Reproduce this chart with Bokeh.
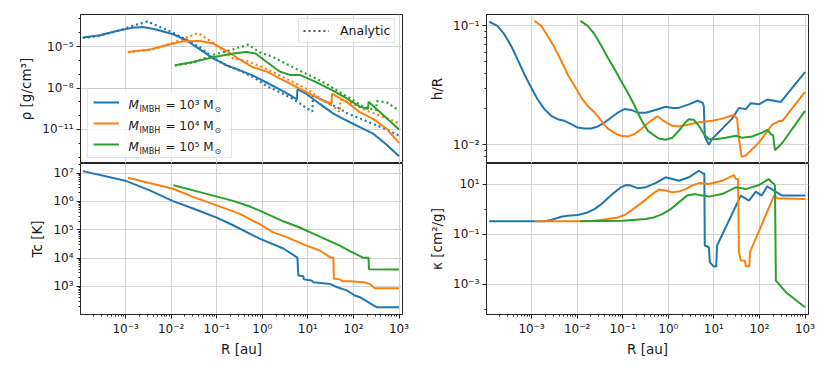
from bokeh.plotting import figure
from bokeh.layouts import row, column
from bokeh.models import (Range1d, FixedTicker, CustomJSTickFormatter, Legend, LegendItem, Label,
                          BoxAnnotation)
from bokeh.embed import file_html
from bokeh.resources import INLINE

# ---------------- data: log10 values ----------------
# rho [g/cm^3]
rho_blue_R = [-3.94, -3.57, -3.2, -2.84, -2.62, -2.33, -1.96, -1.67, -1.37, -1.08, -0.79, -0.49, -0.2, 0.09, 0.38, 0.6, 0.76, 0.77, 0.97, 1.26, 1.56, 1.85, 2.14, 2.44, 2.73, 3.0]
rho_blue_v = [-4.35, -4.18, -3.87, -3.63, -3.58, -3.77, -4.11, -4.54, -5.2, -5.85, -6.35, -6.72, -7.1, -7.6, -8.1, -8.5, -8.83, -8.1, -8.43, -9.15, -9.85, -10.35, -10.83, -11.32, -12.1, -12.93]
rho_blue_an_R = [-3.94, -3.57, -3.2, -2.84, -2.52, -2.3, -1.96, -1.67, -1.37, -1.08, -0.79, -0.49, -0.2, 0.09, 0.38, 0.68, 0.97, 1.1, 1.11, 1.41, 1.7, 1.85, 2.14, 2.44, 2.73, 3.0]
rho_blue_an_v = [-4.38, -4.22, -3.9, -3.5, -3.18, -3.5, -4.0, -4.5, -5.05, -5.8, -6.35, -6.75, -7.2, -7.85, -8.3, -8.8, -9.45, -9.7, -8.5, -9.03, -9.5, -9.8, -10.2, -10.6, -11.0, -11.45]
rho_orange_R = [-2.95, -2.47, -2.11, -1.74, -1.37, -1.08, -0.79, -0.49, -0.2, 0.09, 0.38, 0.68, 0.97, 1.26, 1.52, 1.53, 1.85, 2.14, 2.44, 2.73, 3.0]
rho_orange_v = [-5.39, -5.22, -4.91, -4.62, -4.6, -4.78, -5.3, -5.95, -6.5, -6.8, -7.3, -7.8, -8.3, -8.8, -9.12, -8.4, -9.0, -9.75, -10.25, -10.95, -11.97]
rho_orange_an_R = [-2.95, -2.47, -2.11, -1.74, -1.41, -1.0, -0.64, -0.35, -0.06, 0.24, 0.6, 0.97, 1.34, 1.63, 1.7, 1.71, 2.0, 2.29, 2.58, 2.95, 3.0]
rho_orange_an_v = [-5.4, -5.25, -4.9, -4.45, -4.02, -4.91, -5.87, -6.04, -6.4, -6.86, -7.46, -8.06, -8.9, -9.51, -9.75, -8.83, -9.15, -9.63, -10.0, -10.47, -10.55]
rho_green_R = [-1.92, -1.52, -1.08, -0.64, -0.35, -0.15, 0.09, 0.38, 0.6, 0.82, 1.0, 1.26, 1.56, 1.85, 2.14, 2.32, 2.33, 2.58, 3.0]
rho_green_v = [-6.35, -6.12, -5.78, -5.5, -5.4, -5.5, -6.1, -6.8, -7.05, -7.05, -7.3, -7.7, -8.2, -8.75, -9.35, -9.5, -9.0, -9.74, -11.0]
rho_green_an_R = [-1.92, -1.52, -1.08, -0.64, -0.31, -0.06, 0.24, 0.53, 0.82, 1.12, 1.41, 1.7, 2.0, 2.22, 2.5, 2.51, 2.73, 3.0]
rho_green_an_v = [-6.38, -6.15, -5.6, -5.2, -4.86, -5.41, -5.77, -6.26, -6.74, -7.22, -7.7, -8.3, -8.9, -9.39, -9.6, -8.95, -9.03, -9.63]

# T_c [K]
T_blue_R = [-3.94, -2.98, -2.47, -1.96, -1.52, -1.0, -0.64, -0.06, 0.46, 0.77, 0.79, 0.9, 0.91, 1.08, 1.12, 1.48, 1.63, 1.85, 2.03, 2.14, 2.44, 2.51, 3.0]
T_blue_v = [7.07, 6.72, 6.39, 6.01, 5.75, 5.43, 5.16, 4.69, 4.34, 4.02, 3.39, 3.36, 3.25, 3.21, 3.15, 3.09, 2.98, 2.86, 2.68, 2.62, 2.33, 2.27, 2.27]
T_orange_R = [-2.95, -1.96, -1.52, -1.0, -0.49, -0.06, 0.24, 0.53, 0.97, 1.26, 1.5, 1.56, 1.57, 1.7, 1.77, 1.92, 2.22, 2.36, 2.47, 3.0]
T_orange_v = [6.84, 6.45, 6.16, 5.86, 5.56, 5.2, 4.91, 4.74, 4.44, 4.27, 4.02, 4.02, 3.27, 3.25, 3.18, 3.18, 3.15, 3.09, 2.94, 2.94]
T_green_R = [-1.95, -1.37, -0.64, -0.27, 0.09, 0.46, 0.82, 1.19, 1.48, 1.7, 1.92, 2.22, 2.33, 2.34, 3.0]
T_green_v = [6.57, 6.33, 6.02, 5.82, 5.57, 5.3, 5.08, 4.81, 4.6, 4.44, 4.25, 4.01, 4.01, 3.61, 3.6]

# h/R
h_blue_R = [-3.93, -3.75, -3.6, -3.45, -3.31, -3.16, -3.01, -2.87, -2.72, -2.57, -2.43, -2.28, -2.13, -1.99, -1.84, -1.69, -1.55, -1.4, -1.25, -1.11, -0.96, -0.82, -0.67, -0.5, -0.28, -0.06, 0.09, 0.23, 0.45, 0.64, 0.71, 0.76, 0.78, 0.8, 0.89, 0.96, 1.04, 1.4, 1.55, 1.7, 1.81, 1.99, 2.17, 2.47, 3.0]
h_blue_v = [-0.966, -1.0, -1.07, -1.168, -1.28, -1.407, -1.518, -1.617, -1.7, -1.756, -1.785, -1.798, -1.827, -1.855, -1.863, -1.863, -1.846, -1.813, -1.77, -1.73, -1.7, -1.707, -1.73, -1.73, -1.707, -1.68, -1.69, -1.69, -1.66, -1.63, -1.64, -1.65, -1.68, -1.93, -2.0, -1.95, -1.92, -1.78, -1.69, -1.7, -1.65, -1.66, -1.62, -1.64, -1.39]
h_orange_R = [-2.94, -2.79, -2.65, -2.5, -2.35, -2.21, -2.06, -1.91, -1.77, -1.62, -1.47, -1.33, -1.18, -1.04, -0.89, -0.74, -0.6, -0.41, -0.24, -0.06, 0.09, 0.23, 0.45, 0.67, 0.96, 1.18, 1.44, 1.51, 1.55, 1.61, 1.7, 1.99, 2.28, 2.43, 2.5, 3.0]
h_orange_v = [-0.958, -1.0, -1.084, -1.18, -1.294, -1.407, -1.504, -1.603, -1.672, -1.728, -1.798, -1.863, -1.902, -1.924, -1.93, -1.91, -1.869, -1.807, -1.76, -1.81, -1.84, -1.846, -1.83, -1.81, -1.798, -1.78, -1.75, -1.78, -1.95, -2.1, -2.09, -1.98, -1.83, -1.8, -1.8, -1.555]
h_green_R = [-1.93, -1.77, -1.62, -1.47, -1.33, -1.18, -1.04, -0.89, -0.74, -0.6, -0.45, -0.35, -0.21, -0.06, 0.09, 0.23, 0.38, 0.45, 0.56, 0.67, 0.78, 0.89, 1.04, 1.26, 1.48, 1.62, 1.84, 2.06, 2.17, 2.25, 2.3, 2.34, 2.5, 3.0]
h_green_v = [-0.958, -1.0, -1.07, -1.168, -1.266, -1.364, -1.462, -1.56, -1.672, -1.785, -1.882, -1.91, -1.947, -1.958, -1.94, -1.882, -1.81, -1.785, -1.79, -1.84, -1.91, -1.953, -1.953, -1.94, -1.924, -1.94, -1.93, -1.897, -1.875, -1.91, -1.92, -2.045, -1.985, -1.715]

# kappa [cm^2/g]
k_blue_R = [-3.93, -2.72, -2.57, -2.35, -2.21, -1.99, -1.77, -1.62, -1.47, -1.33, -1.18, -1.04, -0.93, -0.82, -0.67, -0.52, -0.28, -0.06, 0.09, 0.23, 0.45, 0.67, 0.76, 0.79, 0.8, 0.89, 0.91, 1.0, 1.05, 1.07, 1.59, 1.77, 1.92, 2.05, 2.17, 2.32, 2.5, 3.0]
k_blue_v = [-0.486, -0.486, -0.43, -0.3, -0.26, -0.235, -0.13, 0.0, 0.2, 0.43, 0.67, 0.87, 0.96, 0.94, 0.83, 0.86, 1.04, 1.27, 1.2, 1.13, 1.27, 1.53, 1.42, 1.42, -1.45, -1.52, -2.12, -2.29, -2.29, -1.45, 0.54, 0.34, 0.7, 0.54, 0.91, 0.74, 0.54, 0.54]
k_orange_R = [-2.93, -2.0, -1.62, -1.33, -1.11, -0.96, -0.82, -0.67, -0.52, -0.35, -0.21, -0.06, 0.09, 0.23, 0.38, 0.52, 0.67, 0.89, 1.18, 1.44, 1.48, 1.53, 1.55, 1.59, 1.68, 1.7, 1.78, 1.79, 2.32, 2.39, 3.0]
k_orange_v = [-0.486, -0.486, -0.46, -0.39, -0.33, -0.235, -0.06, 0.14, 0.34, 0.6, 0.78, 0.74, 0.67, 0.7, 0.8, 0.94, 1.04, 1.0, 1.13, 1.36, 1.2, 1.2, -1.72, -2.05, -2.05, -2.28, -2.28, -1.72, 0.54, 0.43, 0.4]
k_green_R = [-1.93, -1.0, -0.5, -0.32, -0.13, 0.05, 0.23, 0.41, 0.6, 0.74, 0.89, 1.18, 1.48, 1.7, 1.99, 2.2, 2.27, 2.32, 2.34, 2.36, 2.58, 3.0]
k_green_v = [-0.486, -0.46, -0.39, -0.33, -0.2, 0.0, 0.27, 0.54, 0.6, 0.54, 0.5, 0.6, 0.87, 0.8, 0.96, 1.2, 1.07, 1.0, 0.94, -2.85, -3.31, -3.91]

masses = ["10³", "10⁴", "10⁵"]

# ---------------- styling ----------------
BLUE, ORANGE, GREEN = "#1f77b4", "#ff7f0e", "#2ca02c"
COLORS = [BLUE, ORANGE, GREEN]
FONT = "DejaVu Sans"
TXT = "#1a1a1a"
X_LOG = (-3.99, 3.076)
RHO_LOG = (-13.46, -2.68)
T_LOG = (2.01, 7.34)
H_LOG = (-2.157, -0.905)
K_LOG = (-4.2, 1.82)
FW = 322

def p10(a):
    return [10.0 ** v for v in a]

SUP_JS = r"""
const s = {"-":"\u207b","0":"\u2070","1":"\u00b9","2":"\u00b2","3":"\u00b3","4":"\u2074","5":"\u2075","6":"\u2076","7":"\u2077","8":"\u2078","9":"\u2079"};
const e = Math.round(Math.log10(tick));
return "10" + String(e).split("").map(c => s[c]).join("");
"""

def minors(lo, hi):
    return [m * 10.0 ** k for k in range(lo, hi) for m in range(2, 10)]

X_MAJOR = [10.0 ** k for k in range(-3, 4)]
X_MINOR = minors(-5, 4)


def make_fig(y_log, y_major, y_minor, ylabel, left, right, top, show_x):
    fh = 149 if top else 151
    p = figure(x_axis_type="log", y_axis_type="log", output_backend="svg",
               toolbar_location=None,
               x_range=Range1d(10 ** X_LOG[0], 10 ** X_LOG[1]),
               y_range=Range1d(10 ** y_log[0], 10 ** y_log[1]),
               frame_width=FW, frame_height=fh,
               min_border_left=left, min_border_right=right,
               min_border_top=14 if top else 0, min_border_bottom=45 if show_x else 0)
    p.outline_line_color = "#262626"
    p.outline_line_width = 1
    p.background_fill_color = "white"
    p.border_fill_color = "white"
    xt = FixedTicker(ticks=X_MAJOR, minor_ticks=X_MINOR)
    yt = FixedTicker(ticks=y_major, minor_ticks=y_minor)
    p.xaxis.ticker = xt
    p.yaxis.ticker = yt
    p.xgrid.ticker = xt
    p.ygrid.ticker = yt
    for g in (p.xgrid, p.ygrid):
        g.grid_line_color = "#d4d4d4"
        g.grid_line_width = 1
    for ax in (p.xaxis, p.yaxis):
        ax.formatter = CustomJSTickFormatter(code=SUP_JS)
        ax.axis_line_color = "#262626"
        ax.major_tick_line_color = "#262626"
        ax.minor_tick_line_color = "#262626"
        ax.major_tick_out = 4
        ax.major_tick_in = 0
        ax.minor_tick_out = 2
        ax.minor_tick_in = 0
        ax.major_label_standoff = 3
        ax.major_label_text_font = FONT
        ax.major_label_text_font_size = "12px"
        ax.major_label_text_color = TXT
        ax.axis_label_text_font = FONT
        ax.axis_label_text_font_size = "13.5px"
        ax.axis_label_text_font_style = "normal"
        ax.axis_label_text_color = TXT
        ax.axis_label_standoff = 5
    p.yaxis.axis_label = ylabel
    if show_x:
        p.xaxis.axis_label = "R [au]"
        p.xaxis.axis_label_standoff = 2
    else:
        p.xaxis.visible = False
    return p


def draw(p, series, dash=None):
    rs = []
    for (R, v), c in zip(series, COLORS):
        kw = dict(line_color=c, line_width=2 if dash is None else 2.2)
        if dash is not None:
            kw["line_dash"] = dash
        rs.append(p.line(p10(R), p10(v), **kw))
    return rs


# ---------------- panels ----------------
p_rho = make_fig(RHO_LOG, [1e-14, 1e-11, 1e-8, 1e-5, 1e-2], [10.0 ** k for k in range(-15, 0)],
                 "ρ [g/cm³]", 80, 14, True, False)
p_T = make_fig(T_LOG, [10.0 ** k for k in range(1, 9)], minors(1, 9),
               "Tc [K]", 80, 14, False, True)
p_h = make_fig(H_LOG, [1e-3, 1e-2, 1e-1, 1.0], minors(-4, 1),
               "h/R", 70, 10, True, False)
p_k = make_fig(K_LOG, [1e-5, 1e-3, 1e-1, 1e1], [10.0 ** k for k in range(-6, 3)],
               "κ [cm²/g]", 70, 10, False, True)


def rho_frame_pt(fx, fy):
    # pixel offsets from the top-left corner of the rho frame -> data coordinates
    x = 10 ** (X_LOG[0] + fx / FW * (X_LOG[1] - X_LOG[0]))
    y = 10 ** (RHO_LOG[1] - fy / 149 * (RHO_LOG[1] - RHO_LOG[0]))
    return x, y


# white backing of the mass legend (drawn above the grid, below the curves)
bx0, by0 = rho_frame_pt(7, 76)
bx1, by1 = rho_frame_pt(150, 144)
p_rho.add_layout(BoxAnnotation(left=bx0, right=bx1, top=by0, bottom=by1, fill_color="white",
                               fill_alpha=0.8, line_color=None, level="underlay"))

draw(p_rho, [(rho_blue_an_R, rho_blue_an_v), (rho_orange_an_R, rho_orange_an_v),
             (rho_green_an_R, rho_green_an_v)], dash="2 3")
solid = draw(p_rho, [(rho_blue_R, rho_blue_v), (rho_orange_R, rho_orange_v), (rho_green_R, rho_green_v)])
draw(p_T, [(T_blue_R, T_blue_v), (T_orange_R, T_orange_v), (T_green_R, T_green_v)])
draw(p_h, [(h_blue_R, h_blue_v), (h_orange_R, h_orange_v), (h_green_R, h_green_v)])
draw(p_k, [(k_blue_R, k_blue_v), (k_orange_R, k_orange_v), (k_green_R, k_green_v)])

# ---------------- legends ----------------
nan = float("nan")
dummy = p_rho.line([nan], [nan], line_color="#555555", line_width=2, line_dash="2 3")
leg_an = Legend(items=[LegendItem(label="Analytic", renderers=[dummy])], location=(218, 120),
                padding=4, margin=0, glyph_width=26, glyph_height=15, label_height=15,
                label_standoff=11, label_text_font=FONT, label_text_font_size="12.5px",
                label_text_color=TXT, border_line_color="#cccccc", border_line_width=1,
                background_fill_alpha=0.8)
p_rho.add_layout(leg_an)

leg_m = Legend(items=[LegendItem(label=" ", renderers=[r]) for r in solid], location=(7, 5),
               padding=5, spacing=5, margin=0, glyph_width=26, glyph_height=16, label_height=16,
               label_width=97, label_standoff=10, label_text_font_size="12px",
               border_line_color="#cccccc", border_line_width=1, background_fill_alpha=0.0)
p_rho.add_layout(leg_m)

row_centres = [90, 111, 132]
for yc, m in zip(row_centres, masses):
    parts = [(48, yc, "M", "12px", "italic"),
             (59, yc + 4.5, "IMBH", "8px", "normal"),
             (85, yc, "= " + m + " M", "12px", "normal"),
             (134, yc + 4.5, "⊙", "8px", "normal")]
    for fx, fy, t, fs, st in parts:
        x, y = rho_frame_pt(fx, fy)
        p_rho.add_layout(Label(x=x, y=y, text=t, text_font=FONT, text_font_size=fs,
                               text_font_style=st, text_color=TXT, text_baseline="middle",
                               text_align="left"))

layout = row(column(p_rho, p_T), column(p_h, p_k))
open("out.html", "w").write(file_html(layout, INLINE))
